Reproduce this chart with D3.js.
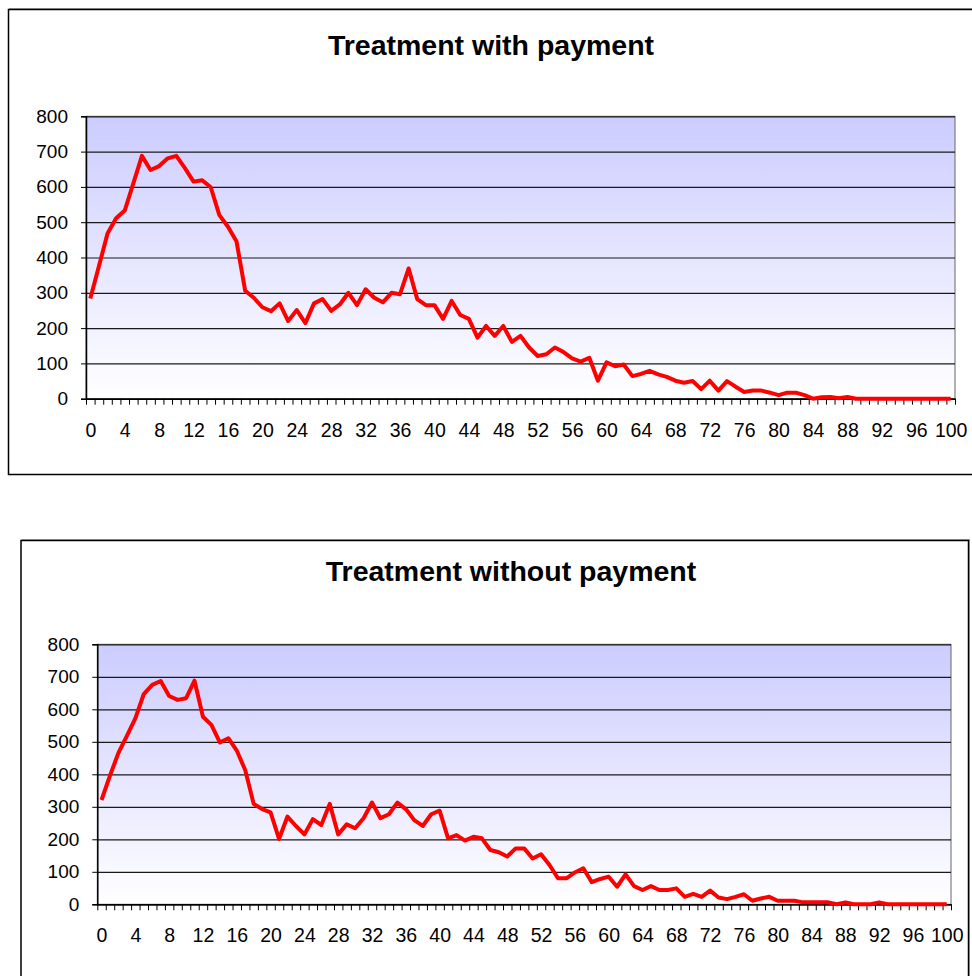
<!DOCTYPE html>
<html>
<head>
<meta charset="utf-8">
<script src="https://cdn.jsdelivr.net/npm/d3@7"></script>
<style>
    body { margin: 0; background: #fff; }
    text { font-family: "Liberation Sans", Arial, sans-serif; }
</style>
</head>
<body>
<script>
// x = category 0..100, y = count

var categories = d3.range(0, 101);
var xTickLabels = [0, 4, 8, 12, 16, 20, 24, 28, 32, 36, 40, 44, 48, 52, 56, 60, 64, 68, 72, 76, 80, 84, 88, 92, 96, 100];
var yTickLabels = [0, 100, 200, 300, 400, 500, 600, 700, 800];

var withPayment = [
    284, 375, 468, 511, 533, 610, 688, 648, 659, 681,
    688, 653, 615, 619, 599, 520, 487, 445, 306, 286,
    259, 248, 270, 220, 251, 214, 270, 282, 249, 267,
    300, 265, 310, 286, 273, 300, 296, 369, 282, 265,
    265, 226, 277, 237, 226, 173, 206, 178, 206, 161,
    178, 145, 121, 126, 145, 132, 114, 105, 116, 51,
    103, 92, 97, 64, 70, 79, 69, 62, 51, 45,
    50, 27, 51, 23, 50, 34, 19, 23, 23, 17,
    10, 17, 17, 10, 0, 4, 5, 1, 5, 0,
    0, 0, 0, 0, 0, 0, 0, 0, 0, 0,
    0
];

var withoutPayment = [
    321, 396, 466, 518, 572, 647, 675, 687, 641, 629,
    634, 688, 577, 552, 498, 511, 473, 413, 309, 293,
    283, 201, 270, 241, 215, 262, 244, 309, 215, 246,
    234, 265, 313, 265, 277, 313, 293, 259, 241, 277,
    288, 203, 213, 196, 208, 203, 167, 160, 147, 172,
    172, 141, 154, 121, 80, 80, 98, 111, 68, 78,
    85, 54, 92, 56, 44, 56, 44, 44, 49, 23,
    32, 23, 42, 21, 16, 23, 31, 11, 18, 23,
    11, 11, 11, 6, 6, 6, 6, 0, 6, 0,
    0, 0, 6, 0, 0, 0, 0, 0, 0, 0,
    0
];

var svg = d3.select("body")
    .append("svg")
    .attr("width", 972)
    .attr("height", 976);

var grad = svg.append("defs")
    .append("linearGradient")
    .attr("id", "plotBg")
    .attr("x1", 0).attr("y1", 0)
    .attr("x2", 0).attr("y2", 1);
grad.append("stop").attr("offset", "0%").attr("stop-color", "#ccccff");
grad.append("stop").attr("offset", "100%").attr("stop-color", "#ffffff");

function drawChart(cfg) {
    // outer frame with light shadow
    svg.append("rect")
        .attr("x", cfg.box[0] + 1).attr("y", cfg.box[1] - 1)
        .attr("width", cfg.box[2]).attr("height", cfg.box[3])
        .attr("fill", "none").attr("stroke", "#aaa").attr("stroke-width", 1);
    svg.append("rect")
        .attr("x", cfg.box[0]).attr("y", cfg.box[1])
        .attr("width", cfg.box[2]).attr("height", cfg.box[3])
        .attr("fill", "#fff").attr("stroke", "#000").attr("stroke-width", 1.5);

    svg.append("text")
        .attr("x", cfg.titleX)
        .attr("y", cfg.titleY)
        .attr("text-anchor", "middle")
        .style("font-size", "28.5px")
        .style("font-weight", "bold")
        .text(cfg.title);

    var x = d3.scaleLinear()
        .domain([-0.5, 100.5])
        .range([cfg.left, cfg.right]);

    var y = d3.scaleLinear()
        .domain([0, 800])
        .range([cfg.bottom, cfg.top]);

    var g = svg.append("g");

    g.append("rect")
        .attr("x", cfg.left).attr("y", cfg.top)
        .attr("width", cfg.right - cfg.left)
        .attr("height", cfg.bottom - cfg.top)
        .attr("fill", "url(#plotBg)")
        .attr("stroke", "#666")
        .attr("stroke-width", 1);

    // gridlines
    g.append("g")
        .attr("transform", "translate(" + cfg.left + ",0)")
        .call(d3.axisLeft(y)
            .tickValues(yTickLabels)
            .tickSize(-(cfg.right - cfg.left))
            .tickFormat(""))
        .call(function (a) {
            a.select(".domain").remove();
            a.selectAll("line").attr("stroke", "#1a1a1a").attr("stroke-width", 1.2);
        });

    g.append("g")
        .attr("transform", "translate(" + cfg.left + ",0)")
        .call(d3.axisLeft(y)
            .tickValues(yTickLabels)
            .tickSize(5)
            .tickPadding(13))
        .call(function (a) {
            a.select(".domain").attr("stroke", "#000").attr("stroke-width", 1.5);
            a.selectAll("line").attr("stroke", "#000");
            a.selectAll("text")
                .style("font-size", "19px")
                .style("font-family", "Liberation Sans, Arial, sans-serif")
                .attr("fill", "#000");
        });

    // x axis: tick marks between categories
    g.append("g")
        .attr("transform", "translate(0," + cfg.bottom + ")")
        .call(d3.axisBottom(x)
            .tickValues(d3.range(-0.5, 101, 1))
            .tickSize(6)
            .tickSizeOuter(0)
            .tickFormat(""))
        .call(function (a) {
            a.select(".domain").attr("stroke", "#000").attr("stroke-width", 1.5);
            a.selectAll("line").attr("stroke", "#000");
        });

    g.append("g")
        .attr("transform", "translate(0," + cfg.bottom + ")")
        .call(d3.axisBottom(x)
            .tickValues(xTickLabels)
            .tickSize(0)
            .tickPadding(24))
        .call(function (a) {
            a.select(".domain").remove();
            a.selectAll("text")
                .style("font-size", "19.5px")
                .style("font-family", "Liberation Sans, Arial, sans-serif")
                .attr("fill", "#000");
        });

    var line = d3.line()
        .x(function (d, i) { return x(categories[i]); })
        .y(function (d) { return y(d); });

    g.append("path")
        .datum(cfg.values)
        .attr("d", line)
        .attr("fill", "none")
        .attr("stroke", "#ff0000")
        .attr("stroke-width", 4)
        .attr("stroke-linejoin", "round");
}

drawChart({
    title: "Treatment with payment",
    values: withPayment,
    box: [8.5, 9.5, 966, 465],
    titleX: 491, titleY: 55,
    left: 86, right: 955, top: 116.3, bottom: 398.7
});

drawChart({
    title: "Treatment without payment",
    values: withoutPayment,
    box: [21, 540.5, 947.5, 460],
    titleX: 511, titleY: 581,
    left: 97.3, right: 951, top: 644.3, bottom: 904.3
});
</script>
</body>
</html>
